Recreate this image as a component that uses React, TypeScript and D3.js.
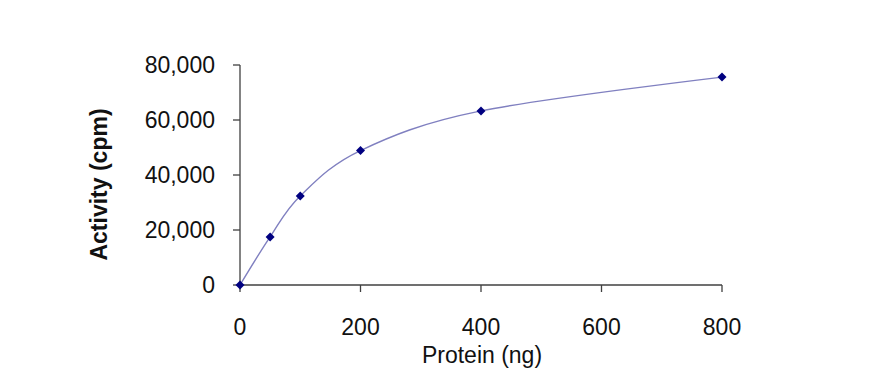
import React from "react";
import * as d3 from "d3";

const protein = [0, 50, 100, 200, 400, 800];
const activity = [0, 17500, 32400, 48900, 63300, 75600];
const xTicks = [0, 200, 400, 600, 800];
const yTicks = [0, 20000, 40000, 60000, 80000];

const W = 882;
const H = 378;
const M = { left: 240, right: 160, top: 65, bottom: 93 };

export default function App() {
  const x = d3.scaleLinear().domain([0, 800]).range([M.left, W - M.right]);
  const y = d3.scaleLinear().domain([0, 80000]).range([H - M.bottom, M.top]);
  const pts: [number, number][] = protein.map((p, i) => [x(p), y(activity[i])]);
  const line = d3.line().curve(d3.curveCardinal.tension(0))(pts) || "";
  const fmt = d3.format(",");
  const font = "Arial, 'Liberation Sans', Helvetica, sans-serif";
  const axisColor = "#404040";
  const y0 = y(0);
  const x0 = x(0);
  const diamond = (cx: number, cy: number, r: number) =>
    `M${cx},${cy - r}L${cx + r},${cy}L${cx},${cy + r}L${cx - r},${cy}Z`;
  return (
    <svg
      width={W}
      height={H}
      style={{ position: "fixed", left: 0, top: 0, background: "#fff" }}
      fontFamily={font}
    >
      <rect width={W} height={H} fill="#fff" />
      {/* y axis */}
      <line x1={x0} x2={x0} y1={y(80000)} y2={y0} stroke={axisColor} strokeWidth={1.3} />
      {yTicks.map((t) => (
        <g key={"y" + t}>
          <line x1={x0 - 7} x2={x0} y1={y(t)} y2={y(t)} stroke={axisColor} strokeWidth={1.3} />
          <text x={215} y={y(t)} dy="0.35em" textAnchor="end" fontSize={23} fill="#111">
            {fmt(t)}
          </text>
        </g>
      ))}
      {/* x axis */}
      <line x1={x0} x2={x(800)} y1={y0} y2={y0} stroke={axisColor} strokeWidth={1.3} />
      {xTicks.map((t) => (
        <g key={"x" + t}>
          <line x1={x(t)} x2={x(t)} y1={y0} y2={y0 + 7} stroke={axisColor} strokeWidth={1.3} />
          <text x={x(t)} y={335} textAnchor="middle" fontSize={23} fill="#111">
            {t}
          </text>
        </g>
      ))}
      <text x={482} y={363} textAnchor="middle" fontSize={23} fill="#111">
        Protein (ng)
      </text>
      <text
        transform={`translate(107,${184.5}) rotate(-90)`}
        textAnchor="middle"
        fontSize={23}
        fontWeight="bold"
        fill="#111"
      >
        Activity (cpm)
      </text>
      <path d={line} fill="none" stroke="#8080c0" strokeWidth={1.4} />
      {pts.map(([cx, cy], i) => (
        <path key={i} d={diamond(cx, cy, 4.5)} fill="#000080" />
      ))}
    </svg>
  );
}
